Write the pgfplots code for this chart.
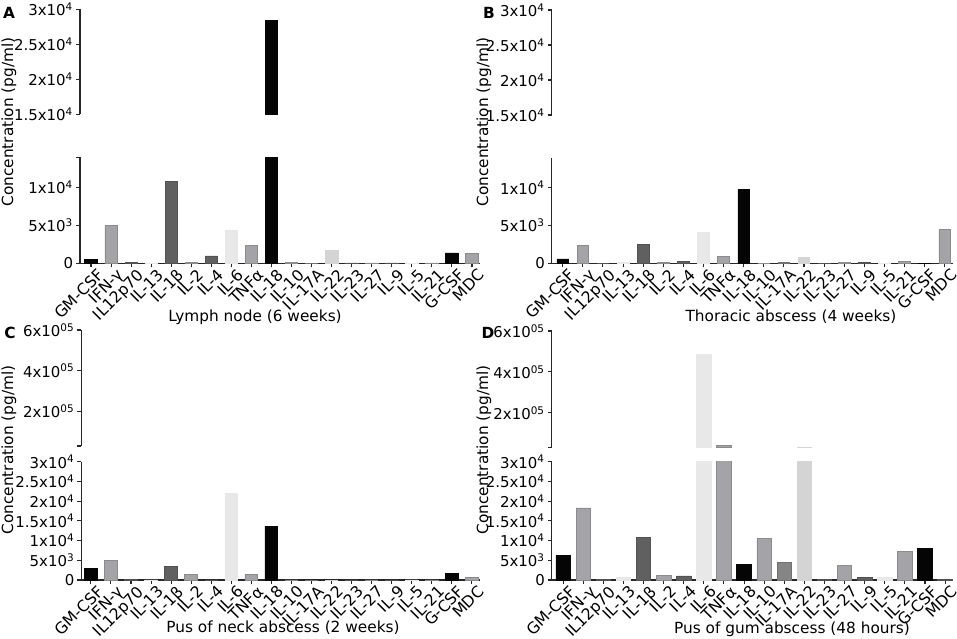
\documentclass[border=0pt]{standalone}
\usepackage{fontspec}
\setmainfont{DejaVu Sans}
\usepackage{pgfplots}
\usepackage{pgfplotstable}
\pgfplotsset{compat=1.18}

\definecolor{ck}{HTML}{050505}
\definecolor{cd}{HTML}{606060}
\definecolor{cm}{HTML}{A3A3A8}
\definecolor{cg}{HTML}{858585}
\definecolor{cl}{HTML}{D4D4D4}
\definecolor{cv}{HTML}{E8E8E8}

% columns: k black, d dark, m medium, g grey (IL-17A), l light (IL-22), v very light
\pgfplotstableread{
x k d m g l v
0 520 nan nan nan nan nan
1 nan nan 5000 nan nan nan
2 nan 100 nan nan nan nan
3 nan nan nan nan nan 50
4 nan 10840 nan nan nan nan
5 nan nan 100 nan nan nan
6 nan 970 nan nan nan nan
7 nan nan nan nan nan 4400
8 nan nan 2380 nan nan nan
9 28400 nan nan nan nan nan
10 nan nan 100 nan nan nan
11 nan nan nan 60 nan nan
12 nan nan nan nan 1670 nan
13 nan 50 nan nan nan nan
14 nan nan 60 nan nan nan
15 nan 60 nan nan nan nan
16 nan nan nan nan nan 40
17 nan nan 60 nan nan nan
18 1370 nan nan nan nan nan
19 nan nan 1300 nan nan nan
}\tA

\pgfplotstableread{
x k d m g l v
0 570 nan nan nan nan nan
1 nan nan 2330 nan nan nan
2 nan 30 nan nan nan nan
3 nan nan nan nan nan 80
4 nan 2470 nan nan nan nan
5 nan nan 80 nan nan nan
6 nan 260 nan nan nan nan
7 nan nan nan nan nan 4140
8 nan nan 925 nan nan nan
9 9740 nan nan nan nan nan
10 nan nan 30 nan nan nan
11 nan nan nan 80 nan nan
12 nan nan nan nan 840 nan
13 nan 30 nan nan nan nan
14 nan nan 100 nan nan nan
15 nan 80 nan nan nan nan
16 nan nan nan nan nan 30
17 nan nan 200 nan nan nan
18 30 nan nan nan nan nan
19 nan nan 4450 nan nan nan
}\tB

\pgfplotstableread{
x k d m g l v
0 2900 nan nan nan nan nan
1 nan nan 5000 nan nan nan
2 nan 250 nan nan nan nan
3 nan nan nan nan nan 20
4 nan 3400 nan nan nan nan
5 nan nan 1500 nan nan nan
6 nan 30 nan nan nan nan
7 nan nan nan nan nan 21900
8 nan nan 1500 nan nan nan
9 13670 nan nan nan nan nan
10 nan nan 30 nan nan nan
11 nan nan nan 30 nan nan
12 nan nan nan nan 30 nan
13 nan 30 nan nan nan nan
14 nan nan 30 nan nan nan
15 nan 30 nan nan nan nan
16 nan nan nan nan nan 30
17 nan nan 30 nan nan nan
18 1700 nan nan nan nan nan
19 nan nan 750 nan nan nan
}\tC

\pgfplotstableread{
x k d m g l v
0 6300 nan nan nan nan nan
1 nan nan 18300 nan nan nan
2 nan 250 nan nan nan nan
3 nan nan nan nan nan 760
4 nan 10700 nan nan nan nan
5 nan nan 1100 nan nan nan
6 nan 1050 nan nan nan nan
7 nan nan nan nan nan 485000
8 nan nan 43000 nan nan nan
9 3950 nan nan nan nan nan
10 nan nan 10560 nan nan nan
11 nan nan nan 4400 nan nan
12 nan nan nan nan 32000 nan
13 nan 200 nan nan nan nan
14 nan nan 3720 nan nan nan
15 nan 600 nan nan nan nan
16 nan nan nan nan nan 760
17 nan nan 7350 nan nan nan
18 8030 nan nan nan nan nan
19 nan 170 nan nan nan nan
}\tD

\pgfplotsset{
  base/.style={scale only axis, axis y line*=left, unbounded coords=discard, clip=true,
    xmax=19.4, xtick={0,...,19}, scaled y ticks=false,
    tick align=outside, major tick length=3pt,
    every tick/.style={line width=0.8pt, color=black!85},
    axis line style={line width=0.9pt, color=black!85},
    tick label style={font=\fontsize{11.2}{12}\selectfont, text=black},
    yticklabel style={inner sep=2pt},
  },
  upper/.style={base, axis x line=none, xtick=\empty},
  lower/.style={base, axis x line*=bottom,
    xticklabels={GM-CSF,IFN-γ,IL12p70,IL-13,IL-1β,IL-2,IL-4,IL-6,TNFα,IL-18,IL-10,IL-17A,IL-22,IL-23,IL-27,IL-9,IL-5,IL-21,G-CSF,MDC},
    xticklabel style={xshift=4pt, yshift=0.5pt, rotate=45, anchor=north east, inner sep=0.5pt,
      font=\fontsize{11.8}{13}\selectfont}},
  bk/.style={ybar, bar shift=0pt, fill=ck, draw=ck, line width=0.5pt},
  bd/.style={ybar, bar shift=0pt, fill=cd, draw=cd!85!black, line width=0.5pt},
  bm/.style={ybar, bar shift=0pt, fill=cm, draw=cm!85!black, line width=0.5pt},
  bg/.style={ybar, bar shift=0pt, fill=cg, draw=cg!85!black, line width=0.5pt},
  bl/.style={ybar, bar shift=0pt, fill=cl, draw=cl, line width=0.5pt},
  bv/.style={ybar, bar shift=0pt, fill=cv, draw=cv, line width=0.5pt},
  lowAB/.style={ymin=0, ymax=14000, ytick={0,5000,10000,14000},
    yticklabels={0,5x10\textsuperscript{3},1x10\textsuperscript{4},{}}},
  upAB/.style={ymin=15000, ymax=30000, ytick={15000,20000,25000,30000},
    y filter/.expression={y<15000 ? nan : y},
    yticklabels={1.5x10\textsuperscript{4},2x10\textsuperscript{4},2.5x10\textsuperscript{4},3x10\textsuperscript{4}}},
  upCD/.style={ymin=30000, ymax=600000, ytick={30000,200000,400000,600000},
    y filter/.expression={y<30000 ? nan : y},
    yticklabels={{},2x10\textsuperscript{05},4x10\textsuperscript{05},6x10\textsuperscript{05}}},
  lowCD/.style={ymin=0, ymax=30000, ytick={0,5000,10000,15000,20000,25000,30000},
    yticklabels={0,5x10\textsuperscript{3},1x10\textsuperscript{4},1.5x10\textsuperscript{4},2x10\textsuperscript{4},2.5x10\textsuperscript{4},3x10\textsuperscript{4}}},
}
\newcommand\bars[1]{%
  \addplot[bk] table[x=x,y=k]{#1};
  \addplot[bd] table[x=x,y=d]{#1};
  \addplot[bm] table[x=x,y=m]{#1};
  \addplot[bg] table[x=x,y=g]{#1};
  \addplot[bl] table[x=x,y=l]{#1};
  \addplot[bv] table[x=x,y=v]{#1};
}
\newcommand\pxu{0.75pt}

\begin{document}
\begin{tikzpicture}
\path[use as bounding box] (0,0) rectangle (717.75pt,-479.25pt);

% ---------- A ----------
\begin{axis}[upper, upAB, at={(60pt,-85.725pt)}, anchor=south west,
  width=300pt, height=78.75pt, xmin=-0.55, bar width=0.62]
\bars{\tA}
\end{axis}
\begin{axis}[lower, lowAB, at={(60pt,-197.475pt)}, anchor=south west,
  width=300pt, height=79.5pt, xmin=-0.55, bar width=0.62]
\bars{\tA}
\end{axis}

% ---------- B ----------
\begin{axis}[upper, upAB, at={(413.775pt,-86.25pt)}, anchor=south west,
  width=300.75pt, height=78.75pt, xmin=-0.55, bar width=0.58]
\bars{\tB}
\end{axis}
\begin{axis}[lower, lowAB, ymax=13900, at={(413.775pt,-197.475pt)}, anchor=south west,
  width=300.75pt, height=78.75pt, xmin=-0.55, bar width=0.58]
\bars{\tB}
\end{axis}

% ---------- C ----------
\begin{axis}[upper, upCD, at={(60.975pt,-334.5pt)}, anchor=south west,
  width=298.8pt, height=87pt, xmin=-0.48, bar width=0.63]
\bars{\tC}
\end{axis}
\begin{axis}[lower, lowCD, at={(60.975pt,-435pt)}, anchor=south west,
  width=298.8pt, height=88.725pt, xmin=-0.48, bar width=0.63]
\bars{\tC}
\end{axis}

% ---------- D ----------
\begin{axis}[upper, upCD, at={(413.775pt,-335.775pt)}, anchor=south west,
  width=301.05pt, height=87.525pt, xmin=-0.57, bar width=0.72]
\bars{\tD}
\end{axis}
\begin{axis}[lower, lowCD, at={(413.775pt,-435pt)}, anchor=south west,
  width=301.05pt, height=88.725pt, xmin=-0.57, bar width=0.72]
\bars{\tD}
\end{axis}

% ---------- labels ----------
\begin{scope}[every node/.style={font=\fontsize{11.5}{13}\selectfont, inner sep=0pt}]
\node[rotate=90] at ({9*\pxu},{-122*\pxu}) {Concentration (pg/ml)};
\node[rotate=90] at ({484*\pxu},{-122*\pxu}) {Concentration (pg/ml)};
\node[rotate=90] at ({9*\pxu},{-450*\pxu}) {Concentration (pg/ml)};
\node[rotate=90] at ({484*\pxu},{-450*\pxu}) {Concentration (pg/ml)};
\node at ({255*\pxu},{-317*\pxu}) {Lymph node (6 weeks)};
\node at ({791*\pxu},{-317*\pxu}) {Thoracic abscess (4 weeks)};
\node at ({283*\pxu},{-628*\pxu}) {Pus of neck abscess (2 weeks)};
\node at ({792*\pxu},{-629*\pxu}) {Pus of gum abscess (48 hours)};
\end{scope}
\begin{scope}[every node/.style={font=\bfseries\fontsize{11.5}{13}\selectfont, inner sep=0pt}]
\node at ({9*\pxu},{-13*\pxu}) {A};
\node at ({489*\pxu},{-13*\pxu}) {B};
\node at ({10*\pxu},{-333*\pxu}) {C};
\node at ({488*\pxu},{-333*\pxu}) {D};
\end{scope}
\end{tikzpicture}
\end{document}
